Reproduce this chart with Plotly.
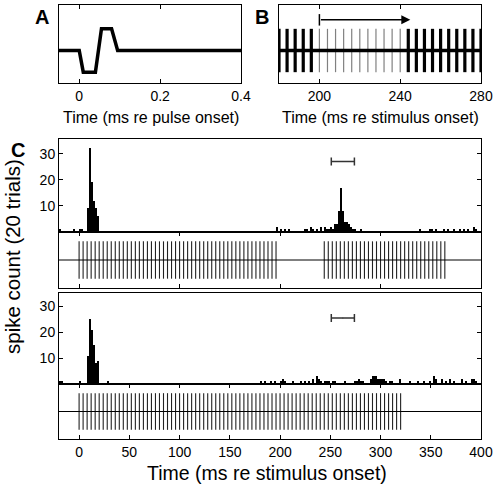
import numpy as np
import plotly.graph_objects as go

W, H = 494, 488

# ---------------- data ----------------
# Panel A: single pulse waveform (ms re pulse onset, arbitrary amplitude)
pulse_t = [-0.05, 0.0, 0.01, 0.04, 0.055, 0.08, 0.095, 0.4]
pulse_v = [0, 0, -1, -1, 1, 1, 0, 0]

# Stimulus pulse trains (ms): interval and on-segments
PULSE_INTERVAL = 4
top_train_segments = [(0, 196), (244, 364)]
bottom_train_segments = [(0, 320)]
gap_omitted = (200, 240)           # omitted pulses drawn gray in panel B

# PSTH (2-ms bins): bin centres and spike counts
BIN_W = 2
top_bins = [-19, -5, 1, 3, 9, 11, 13, 15, 17, 19, 197, 201, 205, 209, 225, 227, 231, 233,
            237, 241, 245, 247, 249, 251, 253, 255, 257, 259, 261, 263, 265, 267, 269, 271,
            273, 275, 281, 339, 349, 351, 355, 363, 367, 373, 379, 383, 387, 393, 395]
top_counts = [1, 1, 1, 1, 9, 32, 19, 12, 9, 6, 2, 1, 1, 1, 1, 1, 2, 1,
              1, 2, 2, 1, 1, 2, 1, 3, 3, 8, 17, 8, 4, 4, 3, 2,
              1, 1, 1, 1, 1, 1, 1, 1, 1, 1, 1, 1, 1, 2, 1]
bot_bins = [-19, -17, 1, 9, 11, 13, 15, 17, 19, 29,
            181, 185, 191, 195, 201, 203, 205, 213, 221, 225, 229, 233, 237, 239, 241, 245,
            247, 249, 253, 255, 265, 275, 277, 279, 281, 283, 291, 293, 295, 297, 299, 301,
            303, 305, 309, 311, 319, 329, 337, 343, 349, 353, 355, 361, 365, 369, 373, 381,
            385, 391, 393, 395]
bot_counts = [1, 1, 1, 11, 25, 21, 15, 8, 9, 1,
              1, 1, 1, 1, 1, 2, 1, 1, 1, 1, 1, 2, 3, 2, 1, 1,
              1, 1, 1, 1, 1, 1, 1, 2, 1, 1, 2, 3, 3, 2, 2, 2,
              2, 1, 1, 1, 2, 1, 1, 1, 1, 3, 2, 2, 1, 2, 1, 2,
              1, 2, 2, 1]

# analysis window (ms) shown as horizontal bar
window = (251, 274)
window_y_top, window_y_bot = 27, 25.5

# ---------------- helpers ----------------
def train(segments, interval):
    out = []
    for a, b in segments:
        out.extend(np.arange(a, b + 0.001, interval).tolist())
    return out

def vlines(ts, y0, y1):
    xs, ys = [], []
    for t in ts:
        xs += [t, t, None]
        ys += [y0, y1, None]
    return xs, ys

def px_x(a, b):
    return [a / W, b / W]

def px_y(top, bottom):
    return [1 - bottom / H, 1 - top / H]

FONT = "Liberation Sans, Arial, Helvetica, sans-serif"

fig = go.Figure()

# Panel A
fig.add_trace(go.Scatter(x=pulse_t, y=pulse_v, mode="lines",
                         line=dict(color="black", width=3.5),
                         xaxis="x", yaxis="y", showlegend=False))

# Panel B
top_pulses = train(top_train_segments, PULSE_INTERVAL)
b_black = [t for t in top_pulses if 178 <= t <= 282]
b_gray = train([gap_omitted], PULSE_INTERVAL)
xs, ys = vlines(b_gray, -1, 1)
fig.add_trace(go.Scatter(x=xs, y=ys, mode="lines", line=dict(color="#808080", width=1.2),
                         xaxis="x2", yaxis="y2", showlegend=False))
xs, ys = vlines(b_black, -1, 1)
fig.add_trace(go.Scatter(x=xs, y=ys, mode="lines", line=dict(color="black", width=3.2),
                         xaxis="x2", yaxis="y2", showlegend=False))
fig.add_trace(go.Scatter(x=[180, 280], y=[0, 0], mode="lines", line=dict(color="black", width=3.5),
                         xaxis="x2", yaxis="y2", showlegend=False))
fig.add_trace(go.Scatter(x=[gap_omitted[0], gap_omitted[0]], y=[1.15, 1.68], mode="lines",
                         line=dict(color="black", width=1.5),
                         xaxis="x2", yaxis="y2", showlegend=False))
fig.add_annotation(x=top_train_segments[1][0] + 1, y=1.42, ax=gap_omitted[0], ay=1.42,
                   xref="x2", yref="y2", axref="x2", ayref="y2",
                   showarrow=True, arrowhead=2, arrowsize=1.2, arrowwidth=1.5, arrowcolor="black", text="")

# Panel C histograms
for bins, counts, xa, ya in [(top_bins, top_counts, "x3", "y3"), (bot_bins, bot_counts, "x5", "y5")]:
    fig.add_trace(go.Bar(x=bins, y=counts, width=BIN_W, marker=dict(color="black", line=dict(width=0)),
                         xaxis=xa, yaxis=ya, showlegend=False))
for wy, xa, ya in [(window_y_top, "x3", "y3"), (window_y_bot, "x5", "y5")]:
    fig.add_trace(go.Scatter(x=[(window[0] + window[1]) / 2], y=[wy], mode="markers",
                             marker=dict(size=1, color="#333"),
                             error_x=dict(type="constant", value=(window[1] - window[0]) / 2,
                                          color="#333", thickness=1.5, width=4),
                             xaxis=xa, yaxis=ya, showlegend=False))

# Panel C rasters
for segs, xa, ya in [(top_train_segments, "x4", "y4"), (bottom_train_segments, "x6", "y6")]:
    xs, ys = vlines(train(segs, PULSE_INTERVAL), -1, 1)
    fig.add_trace(go.Scatter(x=xs, y=ys, mode="lines", line=dict(color="#222222", width=1.1),
                             xaxis=xa, yaxis=ya, showlegend=False))
    fig.add_trace(go.Scatter(x=[-20, 400], y=[0, 0], mode="lines", line=dict(color="black", width=1),
                             xaxis=xa, yaxis=ya, showlegend=False))

# ---------------- layout ----------------
box = dict(showline=True, linecolor="black", linewidth=1, mirror=True, showgrid=False,
           zeroline=False, ticks="inside", ticklen=4, tickcolor="black", automargin=False,
           tickfont=dict(family=FONT, size=14, color="black"))

def ax(**kw):
    d = dict(box)
    d.update(kw)
    return d

A_x, A_y = px_x(59, 241), px_y(5, 83)
B_x, B_y = px_x(279, 481), px_y(5, 83)
C_x = px_x(59, 481)

fig.update_layout(
    template="none",
    width=W, height=H, margin=dict(l=0, r=0, t=0, b=0, pad=0),
    paper_bgcolor="white", plot_bgcolor="white", bargap=0,
    font=dict(family=FONT, color="black"),
    xaxis=ax(domain=A_x, range=[-0.05, 0.4], tickvals=[0, 0.2, 0.4], ticktext=["0", "0.2", "0.4"],
             mirror="allticks", anchor="y"),
    yaxis=ax(domain=A_y, range=[-1.5, 2.1], ticks="", showticklabels=False, anchor="x"),
    xaxis2=ax(domain=B_x, range=[180, 280], tickvals=[200, 240, 280], mirror="allticks", anchor="y2"),
    yaxis2=ax(domain=B_y, range=[-1.5, 2.1], ticks="", showticklabels=False, anchor="x2"),
    xaxis3=ax(domain=C_x, range=[-20, 400], ticks="", showticklabels=False, anchor="y3"),
    yaxis3=ax(domain=px_y(139, 232), range=[0, 35.6], tickvals=[10, 20, 30], mirror="allticks",
              anchor="x3"),
    xaxis4=ax(domain=C_x, range=[-20, 400], tickvals=[0, 100, 200, 300, 400], showticklabels=False,
              mirror="allticks", anchor="y4"),
    yaxis4=ax(domain=px_y(232, 288), range=[-1.5, 1.5], ticks="", showticklabels=False, anchor="x4"),
    xaxis5=ax(domain=C_x, range=[-20, 400], ticks="", showticklabels=False, anchor="y5"),
    yaxis5=ax(domain=px_y(293, 384), range=[0, 35.2], tickvals=[10, 20, 30], mirror="allticks",
              anchor="x5"),
    xaxis6=ax(domain=C_x, range=[-20, 400], tickvals=list(range(0, 401, 50)), mirror="allticks",
              anchor="y6"),
    yaxis6=ax(domain=px_y(384, 439), range=[-1.5, 1.5], ticks="", showticklabels=False, anchor="x6"),
)

def label(text, xpx, ypx, size, bold=False, angle=0):
    fig.add_annotation(x=xpx / W, y=1 - ypx / H, xref="paper", yref="paper", text=f"<b>{text}</b>" if bold else text,
                       showarrow=False, textangle=angle, xanchor="center", yanchor="middle",
                       font=dict(family=FONT, size=size, color="black"))

label("A", 42, 17, 20, bold=True)
label("B", 262, 17, 20, bold=True)
label("C", 18, 150, 20, bold=True)
label("Time (ms re pulse onset)", 151, 117, 16)
label("Time (ms re stimulus onset)", 380, 117, 16)
label("Time (ms re stimulus onset)", 267, 473, 19.5)
label("spike count (20 trials)", 12, 257, 20.5, angle=-90)

fig.write_html("out.html", config={"displayModeBar": False},
               post_script="document.body.style.margin='0';document.body.style.overflow='hidden';")
